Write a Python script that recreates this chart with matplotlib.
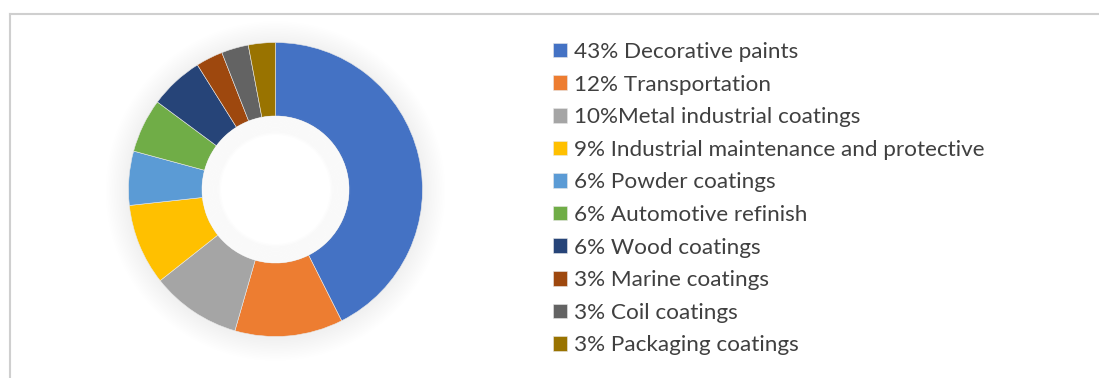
import matplotlib.pyplot as plt
from matplotlib.patches import Circle
from matplotlib.lines import Line2D

# market share of coating segments
labels = ['43% Decorative paints', '12% Transportation', '10%Metal industrial coatings',
          '9% Industrial maintenance and protective', '6% Powder coatings',
          '6% Automotive refinish', '6% Wood coatings', '3% Marine coatings',
          '3% Coil coatings', '3% Packaging coatings']
shares = [43, 12, 10, 9, 6, 6, 6, 3, 3, 3]
colors = ['#4472C4', '#ED7D31', '#A5A5A5', '#FFC000', '#5B9BD5',
          '#70AD47', '#264478', '#9E480E', '#636363', '#997300']

plt.rcParams['font.family'] = ['Lato', 'DejaVu Sans']

W, H = 1099, 378
fig = plt.figure(figsize=(W / 100, H / 100), dpi=100)

# donut centre / radius in pixels
cx, cy, r = 275.5, 189.5, 147
lim = 1.3
ax = fig.add_axes([(cx - r * lim) / W, (H - cy - r * lim) / H, 2 * r * lim / W, 2 * r * lim / H])

# soft glow around the ring
for k in range(14):
    ax.add_patch(Circle((0.0, -0.01), 1.0 + 0.011 * (k + 1), color='#909090',
                        alpha=0.009, lw=0, zorder=0))

wedges, _ = ax.pie(shares, colors=colors, startangle=90, counterclock=False,
                   radius=1.0, wedgeprops=dict(width=0.5, edgecolor='#e8e8e8', linewidth=0.4))

# inner shading of the hole
ax.add_patch(Circle((0, 0), 0.5, color='white', zorder=3, lw=0))
for k in range(14):
    ax.add_patch(Circle((0, 0), 0.5 - 0.009 * k, fill=False, ec='#c8c8c8',
                        lw=2.5, alpha=0.035, zorder=4))

ax.set_xlim(-lim, lim)
ax.set_ylim(-lim, lim)
ax.set_aspect('equal')
ax.axis('off')

leg = fig.legend(wedges, labels, loc='upper left', bbox_to_anchor=(553 / W, 1 - 42 / H),
                 frameon=False, fontsize=16.2, handlelength=0.62, handleheight=0.62,
                 handletextpad=0.3, labelspacing=0.56, borderaxespad=0, borderpad=0)
for t in leg.get_texts():
    t.set_color('#404040')

# partial chart frame (top and left)
fig.add_artist(Line2D([10 / W, 1], [1 - 14 / H, 1 - 14 / H], color='#cfcfcf', lw=1.5))
fig.add_artist(Line2D([10 / W, 10 / W], [0, 1 - 14 / H], color='#cfcfcf', lw=1.5))

fig.savefig('out.png', dpi=100)
